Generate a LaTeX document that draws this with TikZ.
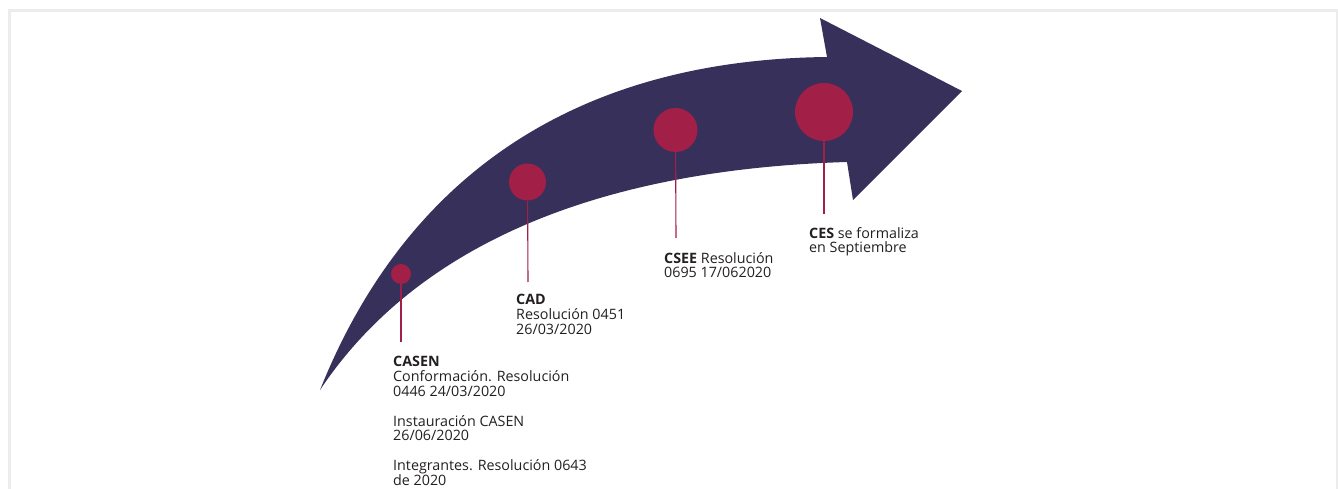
\documentclass[tikz,border=0pt]{standalone}
\usepackage{fontspec}
\setmainfont{Open Sans}
\usepackage{tikz}
\usetikzlibrary{positioning}
\definecolor{band}{HTML}{37305A}
\definecolor{dotred}{HTML}{A21F48}
\definecolor{framegray}{HTML}{ECECEC}
\definecolor{textgray}{HTML}{231F20}
\tikzset{
  arrowband/.style={fill=band, draw=none},
  dot/.style={circle, fill=dotred, inner sep=0pt},
  stem/.style={draw=dotred, line width=1.1pt},
  milestone/.style={anchor=north west, align=left, inner sep=0pt, text=textgray, font=\fontsize{14.3}{14.8}\selectfont},
  frameline/.style={draw=framegray, line width=3pt}
}

\begin{document}
\begin{tikzpicture}[x=1pt, y=-1pt]
  \useasboundingbox (0,0) rectangle (1338,489);
  \draw[frameline] (9.5,489) -- (9.5,10.5) -- (1337.5,10.5) -- (1337.5,489);

  \fill[arrowband] (320,390) .. controls (400,190) and (560,60) .. (827,57) -- (820,18) -- (962,91) -- (853,200) -- (847,162)
    .. controls (580,170) and (410,255) .. (320,390) -- cycle;

  \node[dot, minimum size=20pt] (casendot) at (401,274) {};
  \node[dot, minimum size=37pt] (caddot) at (527.5,182) {};
  \node[dot, minimum size=44pt] (cseedot) at (675.5,130) {};
  \node[dot, minimum size=58pt] (cesdot) at (824,112) {};

  \coordinate (casenstem) at (401,342);
  \coordinate (cadstem) at (528,282);
  \coordinate (cseestem) at (676,238);
  \coordinate (cesstem) at (824,214);

  \draw[stem] (casendot) -- (casenstem);
  \draw[stem] (caddot) -- (cadstem);
  \draw[stem] (cseedot) -- (cseestem);
  \draw[stem] (cesdot) -- (cesstem);

  \node[milestone] (casen) at (393,356.3) {\textbf{CASEN}\\Conformación. Resolución\\0446 24/03/2020\\[14.8pt]Instauración CASEN\\26/06/2020\\[14.8pt]Integrantes. Resolución 0643\\de 2020};
  \node[milestone] (cad) at (516,294) {\textbf{CAD}\\Resolución 0451\\26/03/2020};
  \node[milestone] (csee) at (664,252) {\textbf{CSEE} Resolución\\0695 17/062020};
  \node[milestone] (ces) at (809,227) {\textbf{CES} se formaliza\\en Septiembre};
\end{tikzpicture}
\end{document}
